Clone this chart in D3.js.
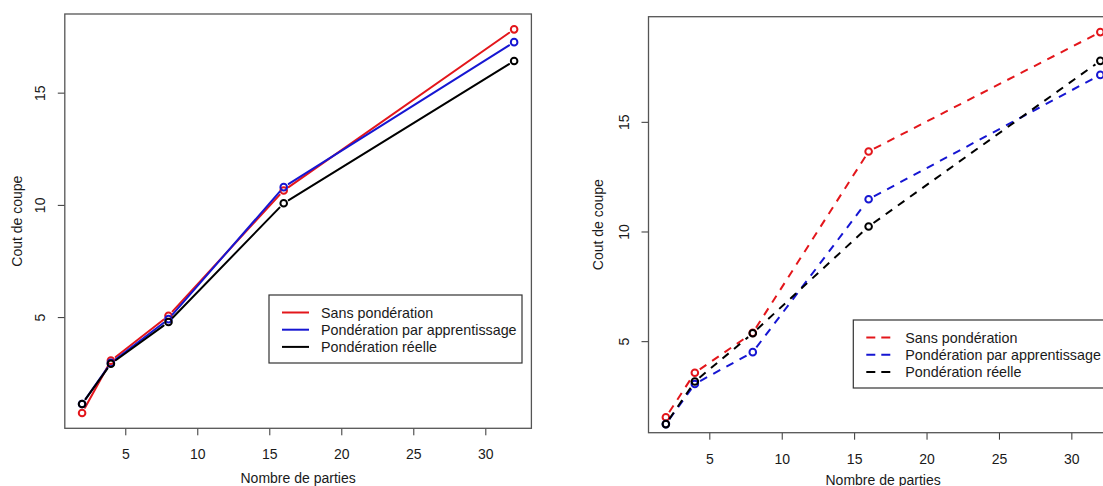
<!DOCTYPE html>
<html>
<head>
<meta charset="utf-8">
<script src="https://cdn.jsdelivr.net/npm/d3@7"></script>
<style>
  html, body { margin: 0; padding: 0; background: #fff; }
  svg { display: block; }
  text { font-family: "Liberation Sans", Arial, Helvetica, sans-serif; fill: #1a1a1a; }
</style>
</head>
<body>
<svg id="chart" width="1103" height="486"></svg>
<script>
// ---- data ----
const parties = [2, 4, 8, 16, 32];
const xTicks = [5, 10, 15, 20, 25, 30];
const yTicks = [5, 10, 15];
const seriesNames = ["Sans pondération", "Pondération par apprentissage", "Pondération réelle"];
const seriesColors = ["#e3161b", "#1616d2", "#000000"];

// left panel (solid lines)
const sansPonderation1 = [0.73, 3.06, 5.06, 10.64, 17.82];
const apprentissage1   = [1.13, 2.96, 4.91, 10.79, 17.25];
const reelle1          = [1.13, 2.92, 4.78, 10.07, 16.41];

// right panel (dashed lines)
const sansPonderation2 = [1.53, 3.56, 5.38, 13.65, 19.09];
const apprentissage2   = [1.22, 3.05, 4.50, 11.47, 17.14];
const reelle2          = [1.22, 3.16, 5.36, 10.23, 17.78];

const xTitle = "Nombre de parties";
const yTitle = "Cout de coupe";

// ---- drawing ----
const svg = d3.select("#chart");

function expand(ext) {
  const d = (ext[1] - ext[0]) * 0.04;
  return [ext[0] - d, ext[1] + d];
}

function panel(opts) {
  const { left, right, top, bottom, series, dashed, legend } = opts;
  const g = svg.append("g");
  const x = d3.scaleLinear().domain(expand(d3.extent(parties))).range([left, right]);
  const y = d3.scaleLinear().domain(expand(d3.extent(series[0]))).range([bottom, top]);

  // x axis
  const xAxis = d3.axisBottom(x).tickValues(xTicks).tickSize(7).tickPadding(14).tickFormat(d3.format("d"));
  const gx = g.append("g").attr("transform", `translate(0,${bottom})`).call(xAxis);
  gx.select(".domain").remove();
  gx.selectAll(".tick line").attr("stroke", "#333").attr("stroke-width", 1);
  gx.selectAll(".tick text").attr("font-size", 14).attr("fill", "#1a1a1a")
    .attr("font-family", "Liberation Sans, Arial, sans-serif");

  // y axis (rotated labels, R style)
  const yAxis = d3.axisLeft(y).tickValues(yTicks).tickSize(7).tickFormat(d3.format("d"));
  const gy = g.append("g").attr("transform", `translate(${left},0)`).call(yAxis);
  gy.select(".domain").remove();
  gy.selectAll(".tick line").attr("stroke", "#333").attr("stroke-width", 1);
  gy.selectAll(".tick text")
    .attr("font-size", 14).attr("fill", "#1a1a1a")
    .attr("font-family", "Liberation Sans, Arial, sans-serif")
    .attr("x", null).attr("dy", null)
    .attr("text-anchor", "middle")
    .attr("transform", "translate(-20,0) rotate(-90)");

  // titles
  g.append("text").attr("x", (left + right) / 2).attr("y", opts.xTitleY)
    .attr("text-anchor", "middle").attr("font-size", 14).text(xTitle);
  g.append("text")
    .attr("transform", `translate(${opts.yTitleX},${(top + bottom) / 2}) rotate(-90)`)
    .attr("text-anchor", "middle").attr("font-size", 14).text(yTitle);

  // series (type = "b": segments with gaps around points)
  const gap = 6;
  const line = d3.line();
  series.forEach((vals, si) => {
    const pts = parties.map((p, i) => [x(p), y(vals[i])]);
    const sg = g.append("g");
    for (let i = 0; i < pts.length - 1; i++) {
      const [x0, y0] = pts[i], [x1, y1] = pts[i + 1];
      const len = Math.hypot(x1 - x0, y1 - y0);
      if (len <= 2 * gap) continue;
      const ux = (x1 - x0) / len, uy = (y1 - y0) / len;
      sg.append("path")
        .attr("d", line([[x0 + ux * gap, y0 + uy * gap], [x1 - ux * gap, y1 - uy * gap]]))
        .attr("fill", "none")
        .attr("stroke", seriesColors[si])
        .attr("stroke-width", 2)
        .attr("stroke-dasharray", dashed ? "8,7" : null)
        .attr("stroke-linecap", dashed ? "butt" : "round");
    }
    sg.selectAll("circle").data(pts).join("circle")
      .attr("cx", d => d[0]).attr("cy", d => d[1]).attr("r", 3.3)
      .attr("fill", "none").attr("stroke", seriesColors[si]).attr("stroke-width", 2);
  });

  // box
  g.append("rect").attr("x", left).attr("y", top)
    .attr("width", right - left).attr("height", bottom - top)
    .attr("fill", "none").attr("stroke", "#555").attr("stroke-width", 1.3);

  // legend
  const lg = g.append("g").attr("transform", `translate(${legend.x},${legend.y})`);
  lg.append("rect").attr("x", 0).attr("y", 0).attr("width", 253).attr("height", 68)
    .attr("fill", "#fff").attr("stroke", "#333").attr("stroke-width", 1.2);
  seriesNames.forEach((name, i) => {
    const ry = 17.5 + i * 17.2;
    lg.append("line").attr("x1", 13).attr("x2", 40).attr("y1", ry).attr("y2", ry)
      .attr("stroke", seriesColors[i]).attr("stroke-width", 2)
      .attr("stroke-dasharray", dashed ? "9,6" : null);
    lg.append("text").attr("x", 52).attr("y", ry + 5).attr("font-size", 14.3).text(name);
  });
}

panel({
  left: 64.8, right: 531.4, top: 14, bottom: 428.3,
  series: [sansPonderation1, apprentissage1, reelle1],
  dashed: false,
  xTitleY: 483, yTitleX: 22,
  legend: { x: 269, y: 295 }
});

panel({
  left: 648.5, right: 1117.7, top: 16.7, bottom: 432.7,
  series: [sansPonderation2, apprentissage2, reelle2],
  dashed: true,
  xTitleY: 484.5, yTitleX: 603,
  legend: { x: 853.3, y: 320 }
});
</script>
</body>
</html>
